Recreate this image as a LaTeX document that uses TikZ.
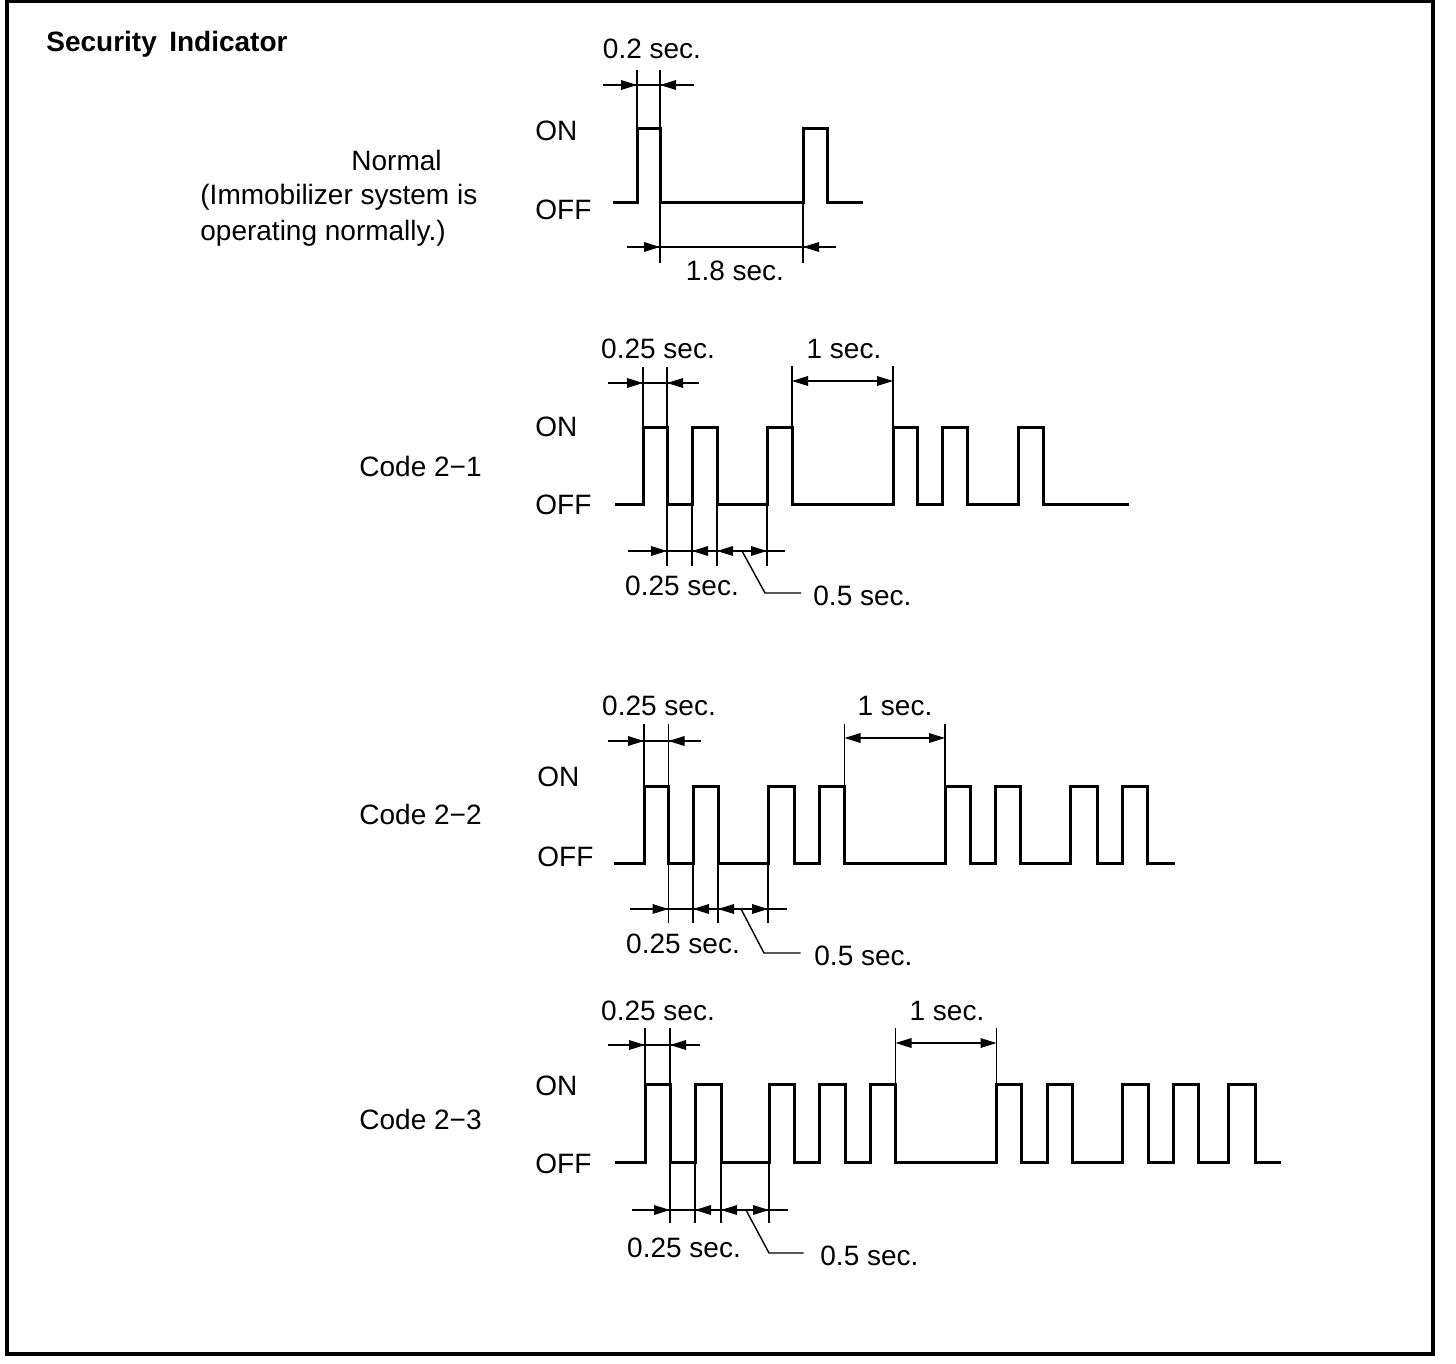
\documentclass[tikz,border=0pt]{standalone}
\usepackage{fontspec}
\setmainfont{Liberation Sans}
\usetikzlibrary{arrows.meta}
\newcommand\tipto[3]{\draw[tipst] (#1,#3) -- (#2,#3);}
\begin{document}
\begin{tikzpicture}[x=0.5pt,y=-0.5pt,
  wave/.style={line width=1.5pt},
  dimln/.style={line width=0.7pt},
  tipst/.style={dimln,-{Triangle[length=8pt,width=4.8pt]}},
  both/.style={dimln,{Triangle[length=8pt,width=4.8pt]}-{Triangle[length=8pt,width=4.8pt]}},
  lbl/.style={inner sep=0pt,font=\fontsize{14pt}{16pt}\selectfont},
  frame/.style={line width=2pt}]
\useasboundingbox (0,0) rectangle (1456,1364);
\draw[frame] (6.5,1.5) rectangle (1433,1354);

\node[lbl,anchor=base west,font=\fontsize{14pt}{16pt}\selectfont\bfseries] (title) at (46,52) {Security\ \,Indicator};

% ---------------- Normal ----------------
\node[lbl,anchor=base west] (nNormal) at (351,171) {Normal};
\node[lbl,anchor=base west] (nImmo) at (200,205) {(Immobilizer system is};
\node[lbl,anchor=base west] (nOper) at (200,241) {operating normally.)};
\node[lbl,anchor=base west] (nOn) at (535,141) {ON};
\node[lbl,anchor=base west] (nOff) at (535,220) {OFF};
\draw[wave] (613,203) -| (637,129) -| (660,203) -| (803,129) -| (827,203) -- (863,203);
\draw[dimln] (637,70) -- (637,129);
\draw[dimln] (660,70) -- (660,263);
\draw[dimln] (803,203) -- (803,263);
\draw[dimln] (603,85) -- (694,85);
\tipto{619}{637}{85}
\tipto{678}{660}{85}
\draw[dimln] (627,247) -- (836,247);
\tipto{642}{660}{247}
\tipto{821}{803}{247}
\node[lbl,anchor=base] (nT1) at (652,59) {0.2 sec.};
\node[lbl,anchor=base] (nT2) at (735,280) {1.8 sec.};

% ---------------- Code 2-1 ----------------
\node[lbl,anchor=base west] (aCode) at (359,476) {Code 2−1};
\node[lbl,anchor=base west] (aOn) at (535,436) {ON};
\node[lbl,anchor=base west] (aOff) at (535,514) {OFF};
\draw[wave] (615,504) -| (643,427) -| (667,504) -| (692,427) -| (717,504) -| (767,427) -| (792,504) -| (893,427) -| (917,504) -| (942,427) -| (967,504) -| (1018,427) -| (1043,504) -- (1129,504);
\draw[dimln] (643,367) -- (643,427);
\draw[dimln] (667,367) -- (667,566);
\draw[dimln] (692,504) -- (692,566);
\draw[dimln] (717,504) -- (717,566);
\draw[dimln] (767,504) -- (767,566);
\draw[dimln] (792,366) -- (792,427);
\draw[dimln] (893,366) -- (893,427);
\draw[dimln] (608,383) -- (699,383);
\tipto{625}{643}{383}
\tipto{685}{667}{383}
\draw[both] (792,381) -- (893,381);
\draw[dimln] (628,551) -- (785,551);
\tipto{649}{667}{551}
\tipto{710}{692}{551}
\tipto{735}{717}{551}
\tipto{749}{767}{551}
\draw[dimln] (742,551) -- (765,593) -- (801,593);
\node[lbl,anchor=base] (aT1) at (658,358) {0.25 sec.};
\node[lbl,anchor=base] (aT2) at (844,358) {1 sec.};
\node[lbl,anchor=base] (aT3) at (682,595) {0.25 sec.};
\node[lbl,anchor=base west] (aT4) at (813,605) {0.5 sec.};

% ---------------- Code 2-2 ----------------
\node[lbl,anchor=base west] (bCode) at (359,824) {Code 2−2};
\node[lbl,anchor=base west] (bOn) at (537,786) {ON};
\node[lbl,anchor=base west] (bOff) at (537,866) {OFF};
\draw[wave] (614,863) -| (644,786) -| (668.5,863) -| (693,786) -| (718,863) -| (768,786) -| (794.5,863) -| (819.5,786) -| (844.5,863) -| (945,786) -| (970.5,863) -| (995,786) -| (1020.5,863) -| (1070,786) -| (1097,863) -| (1122,786) -| (1147,863) -- (1175,863);
\draw[dimln] (644,724) -- (644,786);
\draw[dimln] (668.5,724) -- (668.5,923);
\draw[dimln] (693,863) -- (693,923);
\draw[dimln] (718,863) -- (718,923);
\draw[dimln] (768,863) -- (768,923);
\draw[dimln] (844.5,724) -- (844.5,786);
\draw[dimln] (945,724) -- (945,786);
\draw[dimln] (608,741) -- (701,741);
\tipto{626}{644}{741}
\tipto{686.5}{668.5}{741}
\draw[both] (844.5,738) -- (945,738);
\draw[dimln] (630,909) -- (787,909);
\tipto{650.5}{668.5}{909}
\tipto{711}{693}{909}
\tipto{736}{718}{909}
\tipto{750}{768}{909}
\draw[dimln] (741,909) -- (764,953) -- (800.5,953);
\node[lbl,anchor=base] (bT1) at (659,715) {0.25 sec.};
\node[lbl,anchor=base] (bT2) at (895,715) {1 sec.};
\node[lbl,anchor=base] (bT3) at (683,953) {0.25 sec.};
\node[lbl,anchor=base west] (bT4) at (814,965) {0.5 sec.};

% ---------------- Code 2-3 ----------------
\node[lbl,anchor=base west] (cCode) at (359,1129) {Code 2−3};
\node[lbl,anchor=base west] (cOn) at (535,1095) {ON};
\node[lbl,anchor=base west] (cOff) at (535,1173) {OFF};
\draw[wave] (615,1162) -| (645,1084) -| (670,1162) -| (695,1084) -| (721,1162) -| (769,1084) -| (794.5,1162) -| (819.5,1084) -| (845,1162) -| (870,1084) -| (895.5,1162) -| (996.5,1084) -| (1021.5,1162) -| (1047,1084) -| (1072,1162) -| (1122,1084) -| (1148,1162) -| (1173,1084) -| (1198.5,1162) -| (1228.5,1084) -| (1255,1162) -- (1281,1162);
\draw[dimln] (645,1028) -- (645,1084);
\draw[dimln] (670,1028) -- (670,1223);
\draw[dimln] (695,1162) -- (695,1223);
\draw[dimln] (721,1162) -- (721,1223);
\draw[dimln] (769,1162) -- (769,1223);
\draw[dimln] (895.5,1028) -- (895.5,1084);
\draw[dimln] (996.5,1028) -- (996.5,1084);
\draw[dimln] (608,1045) -- (700,1045);
\tipto{627}{645}{1045}
\tipto{688}{670}{1045}
\draw[both] (895.5,1043) -- (996.5,1043);
\draw[dimln] (632,1210) -- (788,1210);
\tipto{652}{670}{1210}
\tipto{713}{695}{1210}
\tipto{739}{721}{1210}
\tipto{751}{769}{1210}
\draw[dimln] (746,1210) -- (769,1253) -- (803.5,1253);
\node[lbl,anchor=base] (cT1) at (658,1020) {0.25 sec.};
\node[lbl,anchor=base] (cT2) at (947,1020) {1 sec.};
\node[lbl,anchor=base] (cT3) at (684,1257) {0.25 sec.};
\node[lbl,anchor=base west] (cT4) at (820,1265) {0.5 sec.};
\end{tikzpicture}
\end{document}
